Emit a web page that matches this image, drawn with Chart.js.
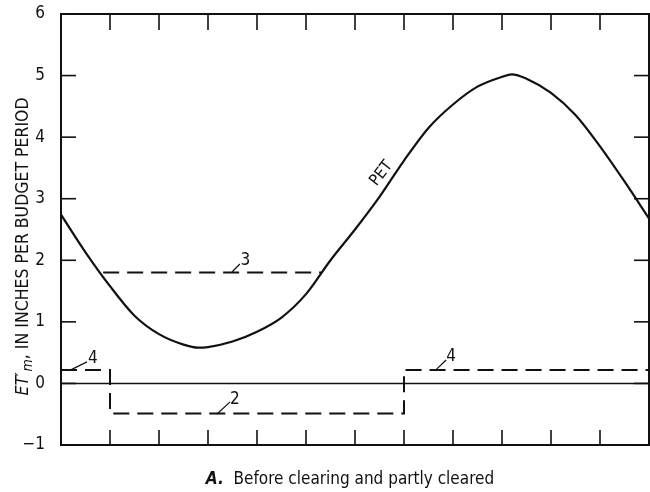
<!DOCTYPE html>
<html>
<head>
<meta charset="utf-8">
<script src="https://cdn.jsdelivr.net/npm/chart.js@4"></script>
<style>
  html, body { margin: 0; padding: 0; background: #fff; }
  #wrap { width: 650px; height: 492px; }
</style>
</head>
<body>
<div id="wrap"><canvas id="myChart" width="650" height="492"></canvas></div>
<script>
// budget periods along x, ET'm in inches along y
const petX = [0, 0.5, 1, 1.5, 2, 2.5, 2.8, 3, 3.5, 4, 4.5, 5, 5.5, 6, 6.5, 7, 7.5, 8, 8.5, 9, 9.2, 9.5, 10, 10.5, 11, 11.5, 12];
const petY = [2.74, 2.13, 1.58, 1.10, 0.80, 0.63, 0.58, 0.59, 0.68, 0.84, 1.07, 1.45, 2.0, 2.50, 3.03, 3.62, 4.15, 4.53, 4.82, 4.98, 5.02, 4.95, 4.72, 4.36, 3.85, 3.28, 2.68];

const curve3X = [0.86, 5.31];
const curve3Y = [1.80, 1.80];

const curve24X = [0, 1, 1, 7, 7, 12];
const curve24Y = [0.22, 0.22, -0.49, -0.49, 0.22, 0.22];

const zeroX = [0, 12];
const zeroY = [0, 0];

const yTicks = [-1, 0, 1, 2, 3, 4, 5, 6];

// curve labels: text, label point, leader from -> to
const labels = [
  { text: '3', x: 3.76, y: 2.0, from: [3.49, 1.81], to: [3.65, 1.94] },
  { text: '4', x: 0.65, y: 0.40, from: [0.2, 0.22], to: [0.53, 0.35] },
  { text: '2', x: 3.55, y: -0.27, from: [3.18, -0.50], to: [3.45, -0.30] },
  { text: '4', x: 7.96, y: 0.44, from: [7.65, 0.22], to: [7.86, 0.38] }
];

const FONT = '"Liberation Sans Narrow", "DejaVu Sans Condensed", sans-serif';

function pts (xs, ys) {
  return xs.map((v, i) => ({ x: v, y: ys[i] }));
}

const frame = {
  id: 'frame',
  afterDatasetsDraw (chart) {
    const { ctx, chartArea: a, scales: { x, y } } = chart;
    ctx.save();
    ctx.strokeStyle = '#111';
    ctx.fillStyle = '#111';
    ctx.lineWidth = 2;
    ctx.strokeRect(a.left, a.top, a.right - a.left, a.bottom - a.top);

    const seg = (x1, y1, x2, y2) => {
      ctx.beginPath();
      ctx.moveTo(x1, y1);
      ctx.lineTo(x2, y2);
      ctx.stroke();
    };
    ctx.lineWidth = 1.6;
    x.ticks.forEach(t => {
      const px = x.getPixelForValue(t.value);
      seg(px, a.top, px, a.top + 16);
      seg(px, a.bottom, px, a.bottom - 15);
    });
    y.ticks.forEach(t => {
      const py = y.getPixelForValue(t.value);
      seg(a.left, py, a.left + 15, py);
      seg(a.right, py, a.right - 15, py);
    });

    // curve labels
    ctx.lineWidth = 1.2;
    ctx.font = '17px ' + FONT;
    ctx.textAlign = 'center';
    ctx.textBaseline = 'middle';
    labels.forEach(l => {
      seg(x.getPixelForValue(l.from[0]), y.getPixelForValue(l.from[1]),
        x.getPixelForValue(l.to[0]), y.getPixelForValue(l.to[1]));
      ctx.fillText(l.text, x.getPixelForValue(l.x), y.getPixelForValue(l.y));
    });

    // PET label along the curve
    ctx.save();
    ctx.translate(x.getPixelForValue(6.54), y.getPixelForValue(3.41));
    ctx.rotate(-52 * Math.PI / 180);
    ctx.font = '16px ' + FONT;
    ctx.fillText('PET', 0, 0);
    ctx.restore();

    // y axis title
    ctx.save();
    ctx.translate(22, 247);
    ctx.rotate(-Math.PI / 2);
    ctx.textAlign = 'left';
    ctx.textBaseline = 'alphabetic';
    const partA = 'ET\u2032';
    const partB = 'm';
    const partC = ', IN INCHES PER BUDGET PERIOD';
    ctx.font = 'italic 17.5px ' + FONT;
    const wA = ctx.measureText(partA).width;
    ctx.font = 'italic 14px ' + FONT;
    const wB = ctx.measureText(partB).width;
    ctx.font = '17.5px ' + FONT;
    const wC = ctx.measureText(partC).width;
    let cx = -(wA + wB + wC) / 2;
    const base = 6;
    ctx.font = 'italic 17.5px ' + FONT;
    ctx.fillText(partA, cx, base);
    cx += wA + 1;
    ctx.font = 'italic 14px ' + FONT;
    ctx.fillText(partB, cx, base + 4);
    cx += wB;
    ctx.font = '17.5px ' + FONT;
    ctx.fillText(partC, cx, base);
    ctx.restore();

    // caption
    ctx.textAlign = 'left';
    ctx.textBaseline = 'alphabetic';
    const capA = 'A.';
    const capB = '  Before clearing and partly cleared';
    ctx.font = 'italic bold 17px ' + FONT;
    const cA = ctx.measureText(capA).width;
    ctx.font = '17px ' + FONT;
    const cB = ctx.measureText(capB).width;
    const sx = 350 - (cA + cB) / 2;
    ctx.font = 'italic bold 17px ' + FONT;
    ctx.fillText(capA, sx, 484);
    ctx.font = '17px ' + FONT;
    ctx.fillText(capB, sx + cA, 484);
    ctx.restore();
  }
};

const myChart = new Chart(document.getElementById('myChart'), {
  type: 'line',
  data: {
    datasets: [
      {
        label: 'PET',
        data: pts(petX, petY),
        borderColor: '#111',
        borderWidth: 2.2,
        cubicInterpolationMode: 'monotone',
        pointRadius: 0
      },
      {
        label: '3',
        data: pts(curve3X, curve3Y),
        borderColor: '#111',
        borderWidth: 2,
        borderDash: [16, 8],
        pointRadius: 0
      },
      {
        label: '2 and 4',
        data: pts(curve24X, curve24Y),
        borderColor: '#111',
        borderWidth: 2,
        borderDash: [16, 8],
        pointRadius: 0
      },
      {
        label: 'zero',
        data: pts(zeroX, zeroY),
        borderColor: '#111',
        borderWidth: 1.5,
        pointRadius: 0
      }
    ]
  },
  options: {
    responsive: false,
    animation: false,
    layout: { padding: { top: 14, right: 1, bottom: 0, left: 0 } },
    plugins: {
      legend: { display: false },
      tooltip: { enabled: false }
    },
    scales: {
      x: {
        type: 'linear',
        min: 0,
        max: 12,
        grid: { display: false },
        border: { display: false },
        ticks: { display: false, stepSize: 1 },
        afterFit: s => { s.height = 47; }
      },
      y: {
        type: 'linear',
        min: -1,
        max: 6,
        grid: { display: false },
        border: { display: false },
        afterBuildTicks: s => { s.ticks = yTicks.map(v => ({ value: v })); },
        ticks: {
          color: '#111',
          padding: 8,
          font: { family: FONT, size: 17 },
          callback: v => v < 0 ? '\u2212' + Math.abs(v) : String(v)
        },
        afterFit: s => {
          s.width = 61;
          s.paddingTop = 0;
          s.paddingBottom = 0;
        }
      }
    }
  },
  plugins: [frame]
});
</script>
</body>
</html>
